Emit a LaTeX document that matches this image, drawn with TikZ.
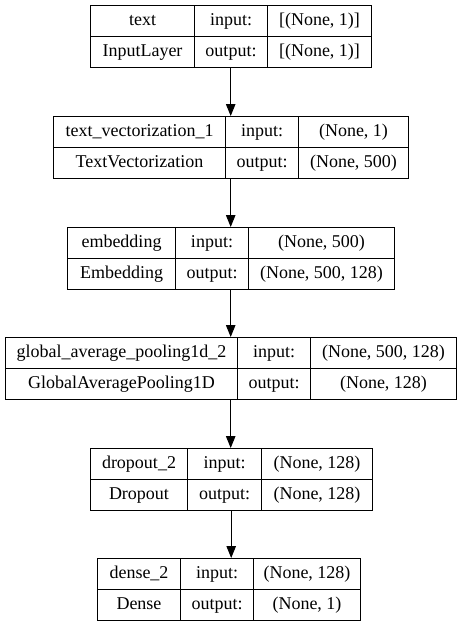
\documentclass[tikz,border=0pt]{standalone}
\usepackage{fontspec}
\setmainfont{Liberation Serif}
\usetikzlibrary{arrows.meta}

\begin{document}
\begin{tikzpicture}[x=1pt, y=-1pt,
    cell/.style={draw, line width=1pt, minimum height=31pt, inner sep=0pt, anchor=north west,
      font=\fontsize{18}{21}\selectfont, text height=12.5pt, text depth=4pt},
    flow/.style={-{Triangle[length=12pt, width=9.5pt]}, line width=1pt}]
  \useasboundingbox (0,0) rectangle (463,627);
  % one row per layer: top, left edge, column dividers, right edge
  \foreach \id/\top/\l/\a/\b/\r/\nm/\ty/\inp/\outp in {
      1/5/90/194/267/371/text/InputLayer/{[(None, 1)]}/{[(None, 1)]},
      2/116/53/225/298/408/text\_vectorization\_1/TextVectorization/{(None, 1)}/{(None, 500)},
      3/227/67/175/248/394/embedding/Embedding/{(None, 500)}/{(None, 500, 128)},
      4/337/5/237/310/456/global\_average\_pooling1d\_2/GlobalAveragePooling1D/{(None, 500, 128)}/{(None, 128)},
      5/448/90/187/261/372/dropout\_2/Dropout/{(None, 128)}/{(None, 128)},
      6/558/97/180/253/360/dense\_2/Dense/{(None, 128)}/{(None, 1)}}{
    \node[minimum width=\r-\l, minimum height=62pt, inner sep=0pt, anchor=north west] (layer\id) at (\l,\top) {};
    \node[cell, minimum width=\a-\l] (name\id) at (\l,\top) {\nm};
    \node[cell, minimum width=\a-\l] (kind\id) at (\l,\top+31) {\ty};
    \node[cell, minimum width=\b-\a] (inlabel\id) at (\a,\top) {input:};
    \node[cell, minimum width=\b-\a] (outlabel\id) at (\a,\top+31) {output:};
    \node[cell, minimum width=\r-\b] (inval\id) at (\b,\top) {\inp};
    \node[cell, minimum width=\r-\b] (outval\id) at (\b,\top+31) {\outp};
  }
  \draw[flow] (layer1.south) -- (layer1.south |- layer2.north);
  \draw[flow] (layer2.south) -- (layer2.south |- layer3.north);
  \draw[flow] (layer3.south) -- (layer3.south |- layer4.north);
  \draw[flow] (layer4.south) -- (layer4.south |- layer5.north);
  \draw[flow] (layer5.south) -- (layer5.south |- layer6.north);
\end{tikzpicture}
\end{document}
